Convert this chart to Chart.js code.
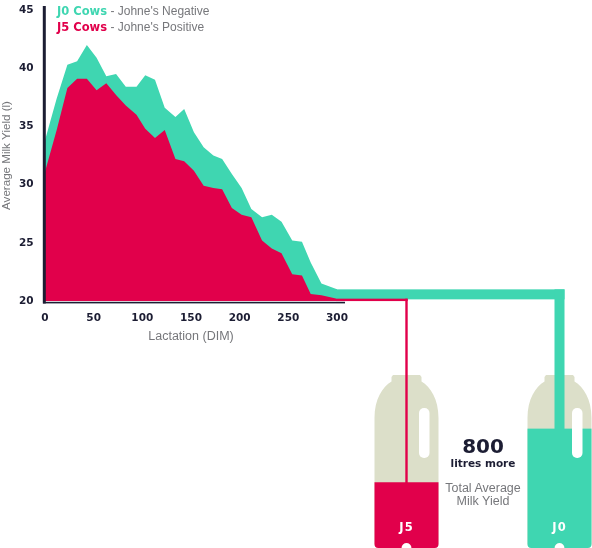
<!DOCTYPE html>
<html>
<head>
<meta charset="utf-8">
<title>Johne's milk yield</title>
<script src="https://cdn.jsdelivr.net/npm/chart.js@4.4.1/dist/chart.umd.min.js"></script>
<style>
  body { margin: 0; background: #fff; }
  #wrap { position: relative; width: 592px; height: 548px; overflow: hidden; }
  #wrap canvas { position: absolute; left: 0; top: 0; }
  .txt { position: absolute; white-space: nowrap; }
  .bold { font-family: "DejaVu Sans", sans-serif; font-weight: bold; }
  .light { font-family: "Liberation Sans", Arial, sans-serif; color: #76777b; }
  #legend { left: 57px; top: 3px; line-height: 16px; font-size: 11.5px; }
  #legend .light { font-size: 12px; }
  #moreNum { top: 433.5px; font-size: 20px; line-height: 24px; }
  #moreTxt { top: 455.5px; font-size: 10.5px; line-height: 14px; }
  #moreNote { left: 383px; width: 200px; text-align: center; top: 481.8px; font-size: 12.5px; line-height: 13.2px; }
  .bottleLabel { width: 60px; text-align: center; top: 519px; font-size: 11.5px; line-height: 16px; color: #fff; letter-spacing: 1px; }
</style>
</head>
<body>
<div id="wrap">
  <canvas id="milkChart"></canvas>
  <div id="legend" class="txt"></div>
  <div id="moreNum" class="txt bold" style="left:383px;width:200px;text-align:center;color:#1c1d33"></div>
  <div id="moreTxt" class="txt bold" style="left:383px;width:200px;text-align:center;color:#1c1d33">litres more</div>
  <div id="moreNote" class="txt light">Total Average<br>Milk Yield</div>
</div>
<script>
// Days in milk (x) and average yield per series
const dim = [0, 12, 23, 33, 43, 53, 63, 73, 83, 94, 103, 113, 123, 134, 143,
             153, 163, 173, 182, 192, 202, 212, 223, 233, 243, 254, 264, 273, 284, 300];
const j0Yield = [33.8, 37.4, 40.3, 40.6, 42.0, 40.9, 39.3, 39.5, 38.4, 38.4, 39.4, 39.0, 36.6, 35.8, 36.5,
                 34.5, 33.2, 32.5, 32.2, 30.9, 29.7, 27.9, 27.2, 27.4, 26.8, 25.2, 25.1, 23.3, 21.5, 21.0];
const j5Yield = [31.1, 34.7, 38.3, 39.1, 39.1, 38.1, 38.7, 37.7, 36.8, 36.0, 34.8, 34.0, 34.7, 32.2, 32.0,
                 31.2, 29.9, 29.7, 29.6, 28.0, 27.4, 27.2, 25.2, 24.5, 24.1, 22.3, 22.2, 20.6, 20.5, 20.2];

const seriesNames = ['J0 Cows', 'J5 Cows'];
const seriesNotes = ["Johne's Negative", "Johne's Positive"];
const xTicks = [0, 50, 100, 150, 200, 250, 300];
const yTicks = [20, 25, 30, 35, 40, 45];

// bottles: J5 on the left, J0 on the right, fill share of the bottle
const bottleNames = ['J5', 'J0'];
const bottleFill = [0.38, 0.69];
const extraLitres = 800;

const GREEN = '#3fd6b1';
const RED = '#e1004b';
const NAVY = '#1c1d33';
const BEIGE = '#dcdfc9';

// legend and text
const legend = document.getElementById('legend');
legend.innerHTML = seriesNames.map((n, i) =>
  '<span class="bold" style="color:' + (i === 0 ? GREEN : RED) + '">' + n + '</span>' +
  '<span class="light"> - ' + seriesNotes[i] + '</span>').join('<br>');
document.getElementById('moreNum').textContent = extraLitres;

const bottleCentres = [406.5, 559.5];
bottleNames.forEach((name, i) => {
  const d = document.createElement('div');
  d.className = 'txt bold bottleLabel';
  d.style.left = (bottleCentres[i] - 30) + 'px';
  d.textContent = name;
  document.getElementById('wrap').appendChild(d);
});

// bottle outline
function bottlePath(ctx, cx) {
  const top = 375, bottom = 548, half = 32, neck = 15, r = 4;
  ctx.beginPath();
  ctx.moveTo(cx - neck + 1.5, top);
  ctx.lineTo(cx + neck - 1.5, top);
  ctx.lineTo(cx + neck, top + 2);
  ctx.lineTo(cx + neck, top + 6.5);
  ctx.bezierCurveTo(cx + neck + 9, top + 12, cx + half, top + 24, cx + half, top + 43);
  ctx.lineTo(cx + half, bottom - r);
  ctx.quadraticCurveTo(cx + half, bottom, cx + half - r, bottom);
  ctx.lineTo(cx + 5, bottom);
  ctx.arc(cx, bottom, 5, 0, Math.PI, true);
  ctx.lineTo(cx - half + r, bottom);
  ctx.quadraticCurveTo(cx - half, bottom, cx - half, bottom - r);
  ctx.lineTo(cx - half, top + 43);
  ctx.bezierCurveTo(cx - half, top + 24, cx - neck - 9, top + 12, cx - neck, top + 6.5);
  ctx.lineTo(cx - neck, top + 2);
  ctx.closePath();
}

const infographic = {
  id: 'infographic',
  afterDraw(chart) {
    const ctx = chart.ctx;
    const area = chart.chartArea;
    const y = chart.scales.y;
    const colors = [RED, GREEN];
    const fillTops = [];

    ctx.save();
    // bottles
    bottleCentres.forEach((cx, i) => {
      const fillTop = 375 + (1 - bottleFill[i]) * 173;
      fillTops.push(fillTop);
      bottlePath(ctx, cx);
      ctx.fillStyle = BEIGE;
      ctx.fill();
      ctx.save();
      bottlePath(ctx, cx);
      ctx.clip();
      ctx.fillStyle = colors[i];
      ctx.fillRect(cx - 40, fillTop, 80, 548 - fillTop + 5);
      ctx.restore();
      // handle slot
      ctx.fillStyle = '#fff';
      ctx.beginPath();
      ctx.roundRect(cx + 12.5, 408, 10.5, 50, 5);
      ctx.fill();
    });

    // green pipe: continues the J0 curve into the J0 bottle
    const yG = y.getPixelForValue(j0Yield[j0Yield.length - 1]);
    const gx = bottleCentres[1];
    ctx.fillStyle = GREEN;
    ctx.fillRect(area.right - 1, yG, gx + 5 - area.right + 1, 10);
    ctx.fillRect(gx - 5, yG, 10, fillTops[1] - yG + 1);

    // red pipe: continues the J5 curve into the J5 bottle
    const yR = y.getPixelForValue(j5Yield[j5Yield.length - 1]);
    const rx = bottleCentres[0];
    ctx.fillStyle = RED;
    ctx.fillRect(area.right - 1, yR, rx + 1.2 - area.right + 1, 2.4);
    ctx.fillRect(rx - 1.2, yR, 2.4, fillTops[0] - yR + 1);

    // axis lines
    ctx.fillStyle = NAVY;
    ctx.fillRect(area.left - 2.2, 6, 3, area.bottom - 6 + 2.5);
    ctx.fillRect(area.left - 2, area.bottom + 0.8, area.right - area.left + 10, 1.6);
    ctx.restore();
  }
};

const tickFont = { family: 'DejaVu Sans', weight: 'bold', size: 10.5 };

new Chart(document.getElementById('milkChart'), {
  type: 'line',
  data: {
    datasets: [
      {
        label: seriesNames[0],
        data: dim.map((d, i) => ({ x: d, y: j0Yield[i] })),
        backgroundColor: GREEN,
        borderWidth: 0,
        pointRadius: 0,
        fill: 'start',
        tension: 0,
        order: 2
      },
      {
        label: seriesNames[1],
        data: dim.map((d, i) => ({ x: d, y: j5Yield[i] })),
        backgroundColor: RED,
        borderWidth: 0,
        pointRadius: 0,
        fill: 'start',
        tension: 0,
        order: 1
      }
    ]
  },
  options: {
    responsive: true,
    maintainAspectRatio: false,
    animation: false,
    layout: { padding: { left: 0, top: 10, right: 255, bottom: 204 } },
    plugins: { legend: { display: false }, tooltip: { enabled: false } },
    scales: {
      x: {
        type: 'linear',
        min: 0,
        max: 300,
        afterFit: s => { s.height = 43; s.paddingLeft = 0; s.paddingRight = 0; },
        afterBuildTicks: s => { s.ticks = xTicks.map(v => ({ value: v })); },
        grid: { display: false, drawTicks: false },
        border: { display: false },
        ticks: { color: NAVY, font: tickFont, padding: 11, maxRotation: 0 },
        title: {
          display: true,
          text: 'Lactation (DIM)',
          color: '#76777b',
          font: { family: 'Liberation Sans', size: 12.5 },
          padding: 0
        }
      },
      y: {
        min: 20,
        max: 45,
        afterFit: s => { s.width = 45; s.paddingTop = 0; s.paddingBottom = 0; },
        afterBuildTicks: s => { s.ticks = yTicks.map(v => ({ value: v })); },
        grid: { display: false, drawTicks: false },
        border: { display: false },
        ticks: { color: NAVY, font: tickFont, padding: 11.5 },
        title: {
          display: true,
          text: 'Average Milk Yield (l)',
          color: '#76777b',
          font: { family: 'Liberation Sans', size: 11.6 },
          padding: 0
        }
      }
    }
  },
  plugins: [infographic]
});
</script>
</body>
</html>
